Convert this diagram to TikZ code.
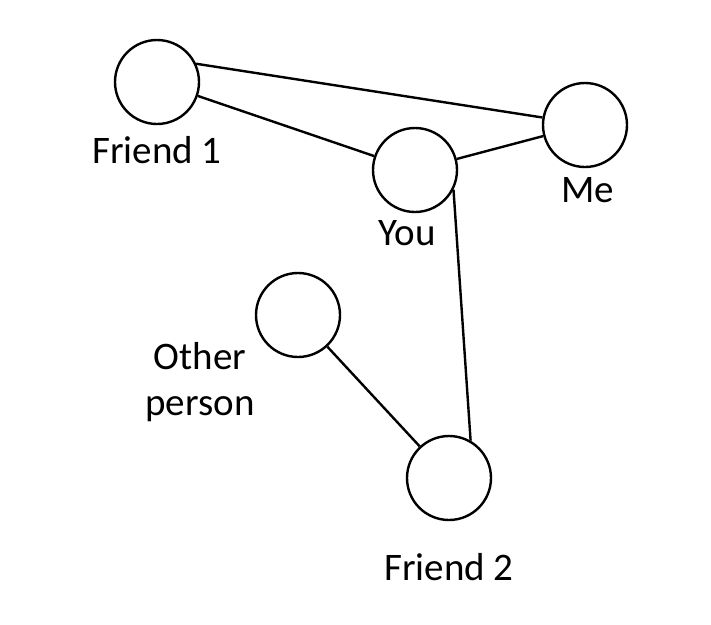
\documentclass[tikz,border=0pt]{standalone}
\usepackage{fontspec}
\setmainfont{Carlito}
\begin{document}
\begin{tikzpicture}[x=1pt,y=-1pt,
  person/.style={circle,draw,line width=2.4pt,minimum size=84pt,inner sep=0pt},
  lbl/.style={font=\fontsize{39}{46}\selectfont,align=center},
  edge/.style={line width=2.4pt}]
\useasboundingbox (0,0) rectangle (711,624);
\node[person] (f1) at (157,82) {};
\node[person] (you) at (415,170) {};
\node[person] (me) at (585,125) {};
\node[person] (oth) at (298,315) {};
\node[person] (f2) at (449,478) {};
\node[lbl] (lf1) at (157,150) {Friend 1};
\node[lbl] (lyou) at (407,233) {You};
\node[lbl] (lme) at (588,190) {Me};
\node[lbl] (loth) at (200,382) {Other\\person};
\node[lbl] (lf2) at (449,567) {Friend 2};
\draw[edge] (f1.25) -- (me.170);
\draw[edge] (f1) -- (you);
\draw[edge] (you) -- (me);
\draw[edge] (you.-27) -- (f2.60);
\draw[edge] (oth) -- (f2);
\end{tikzpicture}
\end{document}
